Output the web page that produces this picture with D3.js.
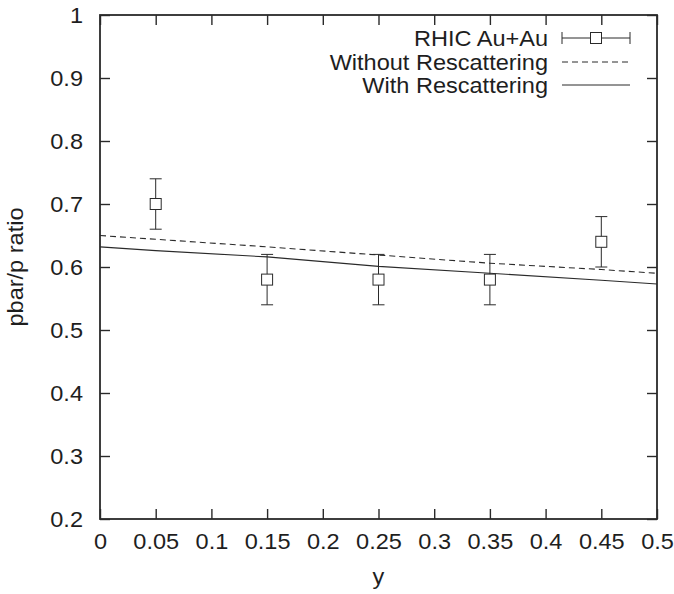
<!DOCTYPE html>
<html>
<head>
<meta charset="utf-8">
<script src="https://cdn.jsdelivr.net/npm/d3@7"></script>
<style>
  body { margin: 0; background: #fff; }
  text { font-family: "Liberation Sans", Arial, sans-serif; fill: #1e1e1e; }
</style>
</head>
<body>
<div id="chart"></div>
<script>
// measured points
const dataY = [0.05, 0.15, 0.25, 0.35, 0.45];
const dataRatio = [0.70, 0.58, 0.58, 0.58, 0.64];
const dataErr = [0.04, 0.04, 0.04, 0.04, 0.04];

// model curves
const curveY = [0, 0.05, 0.15, 0.25, 0.35, 0.45, 0.5];
const withoutResc = [0.650, 0.644, 0.632, 0.619, 0.606, 0.596, 0.590];
const withResc = [0.632, 0.626, 0.616, 0.601, 0.590, 0.579, 0.573];

const xTicks = [0, 0.05, 0.1, 0.15, 0.2, 0.25, 0.3, 0.35, 0.4, 0.45, 0.5];
const yTicks = [0.2, 0.3, 0.4, 0.5, 0.6, 0.7, 0.8, 0.9, 1];

const legendLabels = ["RHIC Au+Au", "Without Rescattering", "With Rescattering"];

const W = 674, H = 594;
const margin = { top: 15, right: 17, bottom: 75, left: 100 };
const width = W - margin.left - margin.right;
const height = H - margin.top - margin.bottom;

const fs = 22;     // font size
const sx = 1.07;   // the original text is a bit wide

const svg = d3.select("#chart").append("svg")
    .attr("width", W)
    .attr("height", H);

const g = svg.append("g")
    .attr("transform", "translate(" + margin.left + "," + margin.top + ")");

const x = d3.scaleLinear().domain([0, 0.5]).range([0, width]);
const y = d3.scaleLinear().domain([0.2, 1]).range([height, 0]);

const ink = "#2a2a2a";
const tickLen = 10;

// stretch text horizontally, keeping its anchor point
function stretch(sel) {
    sel.each(function() {
        const t = d3.select(this);
        const tx = +t.attr("x") || 0;
        t.attr("x", tx / sx).attr("transform", "scale(" + sx + ",1)");
    });
}

// axes with inward ticks, mirrored on top/right
g.append("g")
    .attr("transform", "translate(0," + height + ")")
    .call(d3.axisBottom(x).tickValues(xTicks).tickSize(-tickLen).tickPadding(14)
        .tickFormat(d => d3.format("")(+d.toFixed(2))))
    .call(a => a.select(".domain").remove())
    .call(a => a.selectAll("line").attr("stroke", ink).attr("stroke-width", 1.4))
    .call(a => a.selectAll("text").attr("font-size", fs).attr("fill", "#1e1e1e").attr("dy", "0.71em").call(stretch));

g.append("g")
    .call(d3.axisTop(x).tickValues(xTicks).tickSize(-tickLen).tickFormat(""))
    .call(a => a.select(".domain").remove())
    .call(a => a.selectAll("line").attr("stroke", ink).attr("stroke-width", 1.4));

g.append("g")
    .call(d3.axisLeft(y).tickValues(yTicks).tickSize(-tickLen).tickPadding(17)
        .tickFormat(d => d3.format("")(+d.toFixed(1))))
    .call(a => a.select(".domain").remove())
    .call(a => a.selectAll("line").attr("stroke", ink).attr("stroke-width", 1.4))
    .call(a => a.selectAll("text").attr("font-size", fs).attr("fill", "#1e1e1e").call(stretch));

g.append("g")
    .attr("transform", "translate(" + width + ",0)")
    .call(d3.axisRight(y).tickValues(yTicks).tickSize(-tickLen).tickFormat(""))
    .call(a => a.select(".domain").remove())
    .call(a => a.selectAll("line").attr("stroke", ink).attr("stroke-width", 1.4));

// frame
g.append("rect")
    .attr("width", width)
    .attr("height", height)
    .attr("fill", "none")
    .attr("stroke", ink)
    .attr("stroke-width", 1.8);

// axis titles
svg.append("text")
    .attr("x", margin.left + x(0.25))
    .attr("y", 584)
    .attr("text-anchor", "middle")
    .attr("font-size", fs)
    .call(stretch)
    .text("y");

svg.append("text")
    .attr("transform", "translate(23," + (margin.top + height / 2) + ") rotate(-90) scale(" + sx + ",1)")
    .attr("text-anchor", "middle")
    .attr("font-size", fs)
    .text("pbar/p ratio");

// curves
const line = d3.line().x(d => x(d[0])).y(d => y(d[1]));

g.append("path")
    .datum(curveY.map((v, i) => [v, withoutResc[i]]))
    .attr("d", line)
    .attr("fill", "none")
    .attr("stroke", ink)
    .attr("stroke-width", 1.1)
    .attr("stroke-dasharray", "6,4");

g.append("path")
    .datum(curveY.map((v, i) => [v, withResc[i]]))
    .attr("d", line)
    .attr("fill", "none")
    .attr("stroke", ink)
    .attr("stroke-width", 1.1);

// data with error bars
const pts = dataY.map((v, i) => ({ x: v, r: dataRatio[i], e: dataErr[i] }));
const cap = 6, sq = 11;

const pg = g.selectAll(".pt").data(pts).enter().append("g").attr("class", "pt");
pg.append("line")
    .attr("x1", d => x(d.x)).attr("x2", d => x(d.x))
    .attr("y1", d => y(d.r - d.e)).attr("y2", d => y(d.r + d.e))
    .attr("stroke", ink);
pg.append("line")
    .attr("x1", d => x(d.x) - cap).attr("x2", d => x(d.x) + cap)
    .attr("y1", d => y(d.r + d.e)).attr("y2", d => y(d.r + d.e))
    .attr("stroke", ink);
pg.append("line")
    .attr("x1", d => x(d.x) - cap).attr("x2", d => x(d.x) + cap)
    .attr("y1", d => y(d.r - d.e)).attr("y2", d => y(d.r - d.e))
    .attr("stroke", ink);
pg.append("rect")
    .attr("x", d => x(d.x) - sq / 2).attr("y", d => y(d.r) - sq / 2)
    .attr("width", sq).attr("height", sq)
    .attr("fill", "#fff").attr("stroke", ink);

// legend
const lx1 = 462, lx2 = 530, ltext = 448;
const rows = [38, 62, 85];
const lg = g.append("g");

legendLabels.forEach((lab, i) => {
    lg.append("text")
        .attr("x", ltext)
        .attr("y", rows[i] - margin.top)
        .attr("dy", "0.35em")
        .attr("text-anchor", "end")
        .attr("font-size", fs)
        .call(stretch)
        .text(lab);
});

const r0 = rows[0] - margin.top;
lg.append("line").attr("x1", lx1).attr("x2", lx2).attr("y1", r0).attr("y2", r0).attr("stroke", ink);
lg.append("line").attr("x1", lx1).attr("x2", lx1).attr("y1", r0 - cap).attr("y2", r0 + cap).attr("stroke", ink);
lg.append("line").attr("x1", lx2).attr("x2", lx2).attr("y1", r0 - cap).attr("y2", r0 + cap).attr("stroke", ink);
lg.append("rect")
    .attr("x", (lx1 + lx2) / 2 - sq / 2).attr("y", r0 - sq / 2)
    .attr("width", sq).attr("height", sq)
    .attr("fill", "#fff").attr("stroke", ink);

const r1 = rows[1] - margin.top;
lg.append("line").attr("x1", lx1).attr("x2", lx2).attr("y1", r1).attr("y2", r1)
    .attr("stroke", ink).attr("stroke-dasharray", "6,4");

const r2 = rows[2] - margin.top;
lg.append("line").attr("x1", lx1).attr("x2", lx2).attr("y1", r2).attr("y2", r2).attr("stroke", ink);
</script>
</body>
</html>
